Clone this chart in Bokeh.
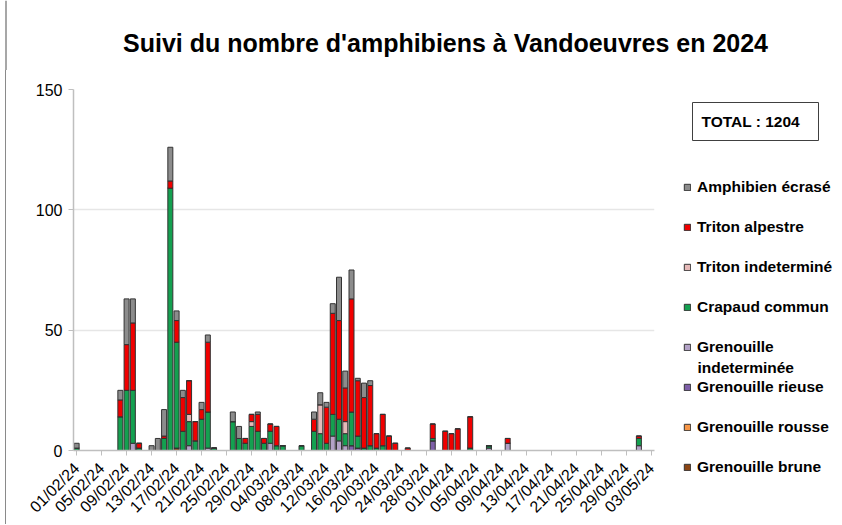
import math
import pandas as pd
from bokeh.plotting import figure
from bokeh.layouts import row, column
from bokeh.models import ColumnDataSource, FixedTicker, Legend, LegendItem, Range1d, Div
from bokeh.core.properties import value
from bokeh.embed import file_html
from bokeh.resources import INLINE

# ---------------- data ----------------
axis_dates = pd.date_range("2024-02-01", "2024-05-03").strftime("%d/%m/%y").tolist()
tick_every = 4

obs_dates = ["01/02/24", "08/02/24", "09/02/24", "10/02/24", "11/02/24", "13/02/24", "14/02/24",
             "15/02/24", "16/02/24", "17/02/24", "18/02/24", "19/02/24", "20/02/24", "21/02/24",
             "22/02/24", "23/02/24", "26/02/24", "27/02/24", "28/02/24", "29/02/24", "01/03/24",
             "02/03/24", "03/03/24", "04/03/24", "05/03/24", "08/03/24", "10/03/24", "11/03/24",
             "12/03/24", "13/03/24", "14/03/24", "15/03/24", "16/03/24", "17/03/24", "18/03/24",
             "19/03/24", "20/03/24", "21/03/24", "22/03/24", "23/03/24", "25/03/24", "29/03/24",
             "31/03/24", "01/04/24", "02/04/24", "04/04/24", "07/04/24", "10/04/24", "01/05/24"]

grenouille_brune = [0, 0, 0, 0, 0, 0, 0, 0, 0, 1, 0, 0, 0, 0, 0, 0, 0, 0, 0, 0, 0, 0, 0, 0, 0,
                    0, 0, 0, 0, 0, 0, 0, 0, 0, 0, 0, 0, 0, 0, 0, 0, 0, 0, 0, 0, 0, 0, 0, 0]
grenouille_rousse = [0] * 49
grenouille_rieuse = [0, 0, 0, 0, 0, 0, 0, 0, 0, 0, 0, 0, 0, 0, 0, 0, 0, 0, 0, 0, 0, 0, 0, 0, 0,
                     0, 0, 0, 0, 0, 0, 0, 2, 1, 0, 0, 0, 0, 0, 0, 0, 4, 0, 0, 0, 0, 0, 0, 0]
grenouille_indet = [0, 0, 0, 3, 0, 0, 0, 0, 0, 0, 0, 2, 0, 0, 1, 0, 0, 0, 0, 0, 0, 0, 3, 0, 0,
                    0, 0, 0, 0, 6, 4, 2, 0, 0, 0, 0, 0, 0, 0, 0, 0, 0, 0, 0, 0, 0, 1, 3, 2]
crapaud_commun = [1, 14, 25, 22, 1, 0, 0, 5, 109, 44, 8, 10, 4, 13, 15, 1, 12, 5, 3, 10, 8, 3, 5, 2, 2,
                  2, 8, 7, 3, 9, 9, 5, 14, 5, 1, 2, 1, 2, 0, 0, 0, 1, 0, 0, 0, 1, 1, 0, 3]
triton_indet = [0, 0, 0, 0, 0, 0, 0, 0, 0, 0, 0, 3, 0, 0, 0, 0, 0, 0, 0, 2, 0, 0, 0, 0, 0,
                0, 0, 12, 0, 0, 0, 5, 0, 0, 0, 0, 0, 0, 0, 0, 0, 0, 0, 0, 0, 0, 0, 0, 0]
triton_alpestre = [0, 7, 19, 28, 2, 0, 0, 1, 3, 9, 14, 14, 8, 4, 29, 0, 0, 0, 2, 3, 7, 2, 3, 8, 0,
                   0, 5, 0, 15, 42, 41, 14, 47, 23, 21, 25, 6, 13, 6, 3, 1, 6, 8, 7, 9, 13, 0, 2, 1]
amphibien_ecrase = [2, 4, 19, 10, 0, 2, 5, 11, 14, 4, 3, 0, 0, 3, 3, 0, 4, 5, 0, 0, 1, 0, 0, 0, 0,
                    0, 3, 5, 2, 4, 18, 7, 12, 1, 6, 2, 0, 0, 0, 0, 0, 0, 0, 0, 0, 0, 0, 0, 0]

series_names = ["Grenouille brune", "Grenouille rousse", "Grenouille rieuse", "Grenouille indeterminée",
                "Crapaud commun", "Triton indeterminé", "Triton alpestre", "Amphibien écrasé"]
series_values = [grenouille_brune, grenouille_rousse, grenouille_rieuse, grenouille_indet,
                 crapaud_commun, triton_indet, triton_alpestre, amphibien_ecrase]
series_colors = ["#8B4513", "#F79646", "#7E5FA8", "#B3A2C7",
                 "#14A050", "#E6B9B8", "#F00000", "#8C8C8C"]
total_text = "TOTAL : 1204"
title_text = "Suivi du nombre d'amphibiens à Vandoeuvres en 2024"

# ---------------- layout constants ----------------
FONT = "Liberation Sans"
W = 836          # total width
H = 524          # total height
T = 70           # title strip height
EDGE = 20        # left strip holding the chart border line
W_LEG = 176
W_MAIN = W - W_LEG - EDGE
H_MAIN = H - T
BORDER = "#8a8a8a"
FRAME_BOTTOM = 452   # page y of the value-axis zero line


def bare(width, height, xr, yr, **kw):
    f = figure(width=width, height=height, output_backend="svg", toolbar_location=None,
               x_range=Range1d(*xr), y_range=Range1d(*yr),
               x_axis_location=None, y_axis_location=None, **kw)
    try:
        f.frame_align = False
    except Exception:
        pass
    f.grid.visible = False
    f.outline_line_color = None
    return f


# ---------------- title strip ----------------
tf = bare(W, T, (0, W), (0, T), min_border=0)
tf.text(x=[445], y=[T - 42], text=[title_text], text_font=value(FONT), text_font_size="25px",
        text_font_style="bold", text_color="#000000", text_align="center", text_baseline="middle")
tf.segment(x0=[5.5], y0=[0], x1=[5.5], y1=[T], line_color=BORDER, line_width=1.5)

# ---------------- left edge strip: chart border line continued below the title ----------------
ef = Div(text="", width=EDGE, height=H_MAIN, margin=0,
         styles={"background": "linear-gradient(to right, transparent 4.75px, %s 4.75px, "
                               "%s 6.25px, transparent 6.25px)" % (BORDER, BORDER)})

# ---------------- main chart ----------------
keys = ["s%d" % i for i in range(len(series_names))]
data = {"x": [axis_dates.index(d) for d in obs_dates]}
for k, v in zip(keys, series_values):
    data[k] = v
source = ColumnDataSource(data)

p = figure(width=W_MAIN, height=H_MAIN, output_backend="svg", toolbar_location=None,
           x_range=Range1d(-0.5, len(axis_dates) - 0.5), y_range=Range1d(0, 150),
           min_border_left=73 - EDGE, min_border_right=W_MAIN + EDGE - 654,
           min_border_top=89 - T, min_border_bottom=H - FRAME_BOTTOM)

renderers = p.vbar_stack(keys, x="x", width=0.8, source=source, fill_color=series_colors,
                         line_color="#333333", line_width=1)

p.xaxis.ticker = FixedTicker(ticks=list(range(0, len(axis_dates), tick_every)))
p.xaxis.major_label_overrides = {i: axis_dates[i] for i in range(0, len(axis_dates), tick_every)}
p.xaxis.major_label_orientation = math.pi / 4
p.xaxis.major_label_text_font = FONT
p.xaxis.major_label_text_font_size = "16px"
p.xaxis.major_label_text_color = "#000000"
p.xaxis.major_label_standoff = 10
p.xaxis.axis_line_color = "#bfbfbf"
p.xaxis.axis_line_width = 1.5
p.xaxis.major_tick_line_color = "#bfbfbf"
p.xaxis.major_tick_in = 0
p.xaxis.major_tick_out = 5
p.xaxis.minor_tick_line_color = None

p.yaxis.ticker = FixedTicker(ticks=[0, 50, 100, 150])
p.yaxis.major_label_text_font = FONT
p.yaxis.major_label_text_font_size = "16px"
p.yaxis.major_label_text_color = "#000000"
p.yaxis.major_label_standoff = 6
p.yaxis.axis_line_color = "#bfbfbf"
p.yaxis.axis_line_width = 1.5
p.yaxis.major_tick_line_color = "#bfbfbf"
p.yaxis.major_tick_in = 0
p.yaxis.major_tick_out = 5
p.yaxis.minor_tick_line_color = None

p.xgrid.grid_line_color = None
p.ygrid.grid_line_color = "#e6e6e6"
p.ygrid.grid_line_width = 1.5
p.outline_line_color = None

# ---------------- legend panel ----------------
lf = bare(W_LEG, H_MAIN, (0, W_LEG), (0, H_MAIN), min_border=0)
X0 = W_MAIN + EDGE   # page x of the legend panel's left edge
Y0 = H               # page y of the legend panel's bottom edge

dummies = {}
for name, col in zip(series_names, series_colors):
    dummies[name] = lf.rect(x=[-500], y=[-500], width=1, height=1, fill_color=col,
                            line_color="#333333", line_width=1)

items = []
for name in reversed(series_names):
    label = "Grenouille" if name == "Grenouille indeterminée" else name
    items.append(LegendItem(label=label, renderers=[dummies[name]]))

legend = Legend(items=items, location=(683 - X0, Y0 - 477), orientation="vertical",
                label_text_font=FONT, label_text_font_size="15.5px", label_text_font_style="bold",
                label_text_color="#000000",
                glyph_width=8, glyph_height=8, label_standoff=6, label_height=20, spacing=20,
                padding=0, margin=0, background_fill_alpha=0, border_line_alpha=0)
lf.add_layout(legend)

lf.text(x=[697 - X0], y=[Y0 - 367], text=["indeterminée"], text_font=value(FONT),
        text_font_size="15.5px", text_font_style="bold", text_color="#000000",
        text_baseline="middle")

lf.quad(left=[692 - X0], right=[818 - X0], bottom=[Y0 - 140], top=[Y0 - 102],
        fill_color="white", line_color="#404040", line_width=1)
lf.text(x=[701 - X0], y=[Y0 - 121], text=[total_text], text_font=value(FONT),
        text_font_size="15.5px", text_font_style="bold", text_color="#000000",
        text_baseline="middle")

layout = column(tf, row(ef, p, lf, spacing=0), spacing=0)
open("out.html", "w").write(file_html(layout, INLINE))
